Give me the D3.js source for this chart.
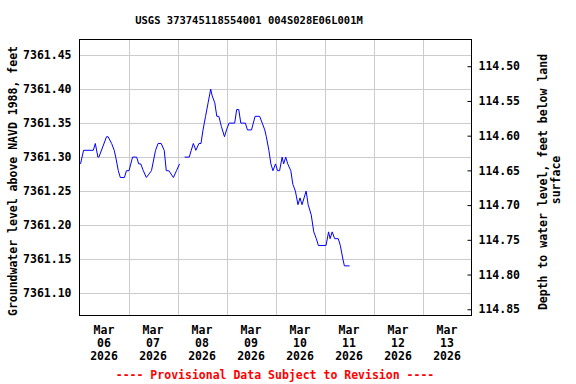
<!DOCTYPE html>
<html>
<head>
<meta charset="utf-8">
<script src="https://cdn.jsdelivr.net/npm/d3@7"></script>
<style>
  body { margin: 0; background: #fff; }
  text { font-family: "DejaVu Sans Mono", monospace; font-weight: bold; }
</style>
</head>
<body>
<div id="chart"></div>
<script>
// Groundwater level readings (time, feet above NAVD 1988); null marks the data gap
const times = [
  "2026-03-06T00:30", "2026-03-06T02:00", "2026-03-06T06:45", "2026-03-06T07:45", "2026-03-06T09:00",
  "2026-03-06T09:30", "2026-03-06T13:15", "2026-03-06T14:00", "2026-03-06T15:45", "2026-03-06T17:00",
  "2026-03-06T17:45", "2026-03-06T19:00", "2026-03-06T20:00", "2026-03-06T22:00", "2026-03-06T23:00",
  "2026-03-07T00:15", "2026-03-07T02:00", "2026-03-07T04:00", "2026-03-07T05:00", "2026-03-07T06:00",
  "2026-03-07T07:15", "2026-03-07T08:45", "2026-03-07T10:00", "2026-03-07T11:15", "2026-03-07T13:15",
  "2026-03-07T14:30", "2026-03-07T16:00", "2026-03-07T17:30", "2026-03-07T18:30", "2026-03-07T19:45",
  "2026-03-07T22:00", "2026-03-07T23:30", "2026-03-08T01:00", "2026-03-08T02:00", "2026-03-08T03:30",
  "2026-03-08T05:45", "2026-03-08T06:45", "2026-03-08T07:45", "2026-03-08T09:00", "2026-03-08T10:30",
  "2026-03-08T11:30", "2026-03-08T12:30", "2026-03-08T13:45", "2026-03-08T15:00", "2026-03-08T16:15",
  "2026-03-08T17:00", "2026-03-08T18:15", "2026-03-08T19:15", "2026-03-08T20:15", "2026-03-08T21:30",
  "2026-03-08T23:00", "2026-03-09T00:00", "2026-03-09T01:15", "2026-03-09T04:00", "2026-03-09T05:00",
  "2026-03-09T06:00", "2026-03-09T07:00", "2026-03-09T09:15", "2026-03-09T10:15", "2026-03-09T12:15",
  "2026-03-09T14:00", "2026-03-09T16:15", "2026-03-09T17:30", "2026-03-09T18:45", "2026-03-09T19:30",
  "2026-03-09T20:45", "2026-03-09T21:45", "2026-03-09T22:45", "2026-03-10T00:00", "2026-03-10T01:00",
  "2026-03-10T02:00", "2026-03-10T03:15", "2026-03-10T04:00", "2026-03-10T05:00", "2026-03-10T06:00",
  "2026-03-10T07:30", "2026-03-10T08:30", "2026-03-10T09:45", "2026-03-10T11:00", "2026-03-10T12:00",
  "2026-03-10T13:00", "2026-03-10T14:00", "2026-03-10T15:00", "2026-03-10T16:00", "2026-03-10T17:30",
  "2026-03-10T18:45", "2026-03-10T20:00", "2026-03-10T21:00", "2026-03-11T00:45", "2026-03-11T02:00",
  "2026-03-11T02:45", "2026-03-11T03:45", "2026-03-11T05:00", "2026-03-11T06:45", "2026-03-11T07:45",
  "2026-03-11T09:00", "2026-03-11T09:45", "2026-03-11T12:15"
];
const levels = [
  7361.29, 7361.31, 7361.31, 7361.32, 7361.30,
  7361.30, 7361.33, 7361.33, 7361.32, 7361.31,
  7361.30, 7361.28, 7361.27, 7361.27, 7361.28,
  7361.28, 7361.30, 7361.30, 7361.29, 7361.29,
  7361.28, 7361.27, 7361.275, 7361.28, 7361.31,
  7361.32, 7361.32, 7361.31, 7361.28, 7361.28,
  7361.27, 7361.28, 7361.29, null, 7361.30,
  7361.30, 7361.31, 7361.32, 7361.31, 7361.32,
  7361.32, 7361.34, 7361.36, 7361.38, 7361.40,
  7361.39, 7361.38, 7361.36, 7361.36, 7361.345,
  7361.33, 7361.34, 7361.35, 7361.35, 7361.37,
  7361.37, 7361.35, 7361.35, 7361.34, 7361.34,
  7361.36, 7361.36, 7361.35, 7361.34, 7361.33,
  7361.31, 7361.29, 7361.28, 7361.29, 7361.28,
  7361.28, 7361.30, 7361.29, 7361.30, 7361.29,
  7361.28, 7361.26, 7361.25, 7361.23, 7361.24,
  7361.23, 7361.24, 7361.25, 7361.23, 7361.215,
  7361.19, 7361.18, 7361.17, 7361.17, 7361.19,
  7361.18, 7361.19, 7361.18, 7361.18, 7361.17,
  7361.15, 7361.14, 7361.14
];

// axis ticks
const leftTicks = [7361.10, 7361.15, 7361.20, 7361.25, 7361.30, 7361.35, 7361.40, 7361.45];
const rightTicks = [114.50, 114.55, 114.60, 114.65, 114.70, 114.75, 114.80, 114.85];
const dayLabels = [
  ["Mar", "06", "2026"], ["Mar", "07", "2026"], ["Mar", "08", "2026"], ["Mar", "09", "2026"],
  ["Mar", "10", "2026"], ["Mar", "11", "2026"], ["Mar", "12", "2026"], ["Mar", "13", "2026"]
];

const width = 576, height = 384;
const plot = { left: 79.5, right: 471.5, top: 39.5, bottom: 315.5 };

const parseTime = d3.timeParse("%Y-%m-%dT%H:%M");
const data = times.map((t, i) => ({ date: parseTime(t), value: levels[i] }));

const svg = d3.select("#chart")
  .append("svg")
  .attr("width", width)
  .attr("height", height);

// scales
const x = d3.scaleTime()
  .domain([new Date(2026, 2, 6), new Date(2026, 2, 14)])
  .range([plot.left, plot.right]);

const y = d3.scaleLinear()
  .domain([7361.067, 7361.473])
  .range([plot.bottom, plot.top]);

const yRight = d3.scaleLinear()
  .domain([114.4615, 114.859])
  .range([plot.top, plot.bottom]);

// gridlines
const midnights = d3.timeDay.range(new Date(2026, 2, 7), new Date(2026, 2, 14));
svg.append("g")
  .selectAll("line")
  .data(midnights)
  .join("line")
  .attr("x1", (d) => Math.round(x(d)) + 0.5)
  .attr("x2", (d) => Math.round(x(d)) + 0.5)
  .attr("y1", plot.top)
  .attr("y2", plot.bottom)
  .attr("stroke", "#cccccc");

svg.append("g")
  .selectAll("line")
  .data(leftTicks)
  .join("line")
  .attr("x1", plot.left)
  .attr("x2", plot.right)
  .attr("y1", (d) => Math.round(y(d)) + 0.5)
  .attr("y2", (d) => Math.round(y(d)) + 0.5)
  .attr("stroke", "#cccccc");

// left axis (labels only)
svg.append("g")
  .attr("transform", `translate(${plot.left},0)`)
  .call(d3.axisLeft(y).tickValues(leftTicks).tickFormat(d3.format(".2f")).tickSize(0).tickPadding(8))
  .call((g) => g.select(".domain").remove())
  .selectAll("text")
  .attr("font-size", "11.5px")
  .attr("font-family", "DejaVu Sans Mono")
  .attr("fill", "#000");

// right axis, ticks pointing inward
svg.append("g")
  .attr("transform", `translate(${plot.right},0)`)
  .call(d3.axisRight(yRight).tickValues(rightTicks).tickFormat(d3.format(".2f")).tickSize(-4).tickPadding(7))
  .call((g) => g.select(".domain").remove())
  .call((g) => g.selectAll("line").attr("stroke", "#000"))
  .selectAll("text")
  .attr("font-size", "11.5px")
  .attr("font-family", "DejaVu Sans Mono")
  .attr("fill", "#000");

// x labels at noon of each day
const noons = dayLabels.map((d, i) => new Date(2026, 2, 6 + i, 12));
const xLab = svg.append("g")
  .selectAll("text")
  .data(dayLabels)
  .join("text")
  .attr("x", (d, i) => x(noons[i]))
  .attr("text-anchor", "middle")
  .attr("font-size", "11.5px");
[334, 347, 360].forEach((yy, k) => {
  xLab.append("tspan")
    .attr("x", (d, i) => x(noons[i]))
    .attr("y", yy)
    .text((d) => d[k]);
});

// data line
const line = d3.line()
  .defined((d) => d.value !== null)
  .x((d) => x(d.date))
  .y((d) => y(d.value));

svg.append("path")
  .datum(data)
  .attr("d", line)
  .style("fill", "none")
  .style("stroke", "#0000ff")
  .style("stroke-width", 1);

// frame
svg.append("rect")
  .attr("x", plot.left)
  .attr("y", plot.top)
  .attr("width", plot.right - plot.left)
  .attr("height", plot.bottom - plot.top)
  .attr("fill", "none")
  .attr("stroke", "#000")
  .attr("shape-rendering", "crispEdges");

// titles
svg.append("text")
  .attr("x", 249)
  .attr("y", 24)
  .attr("text-anchor", "middle")
  .attr("font-size", "10.5px")
  .text("USGS 373745118554001 004S028E06L001M");

svg.append("text")
  .attr("transform", "translate(17,181) rotate(-90)")
  .attr("text-anchor", "middle")
  .attr("font-size", "11.5px")
  .text("Groundwater level above NAVD 1988, feet");

svg.append("text")
  .attr("transform", "translate(547,182) rotate(-90)")
  .attr("text-anchor", "middle")
  .attr("font-size", "11.5px")
  .text("Depth to water level, feet below land");

svg.append("text")
  .attr("transform", "translate(560,180) rotate(-90)")
  .attr("text-anchor", "middle")
  .attr("font-size", "11.5px")
  .text("surface");

svg.append("text")
  .attr("x", 275)
  .attr("y", 379)
  .attr("text-anchor", "middle")
  .attr("font-size", "11.5px")
  .attr("fill", "#ff0000")
  .text("---- Provisional Data Subject to Revision ----");
</script>
</body>
</html>
